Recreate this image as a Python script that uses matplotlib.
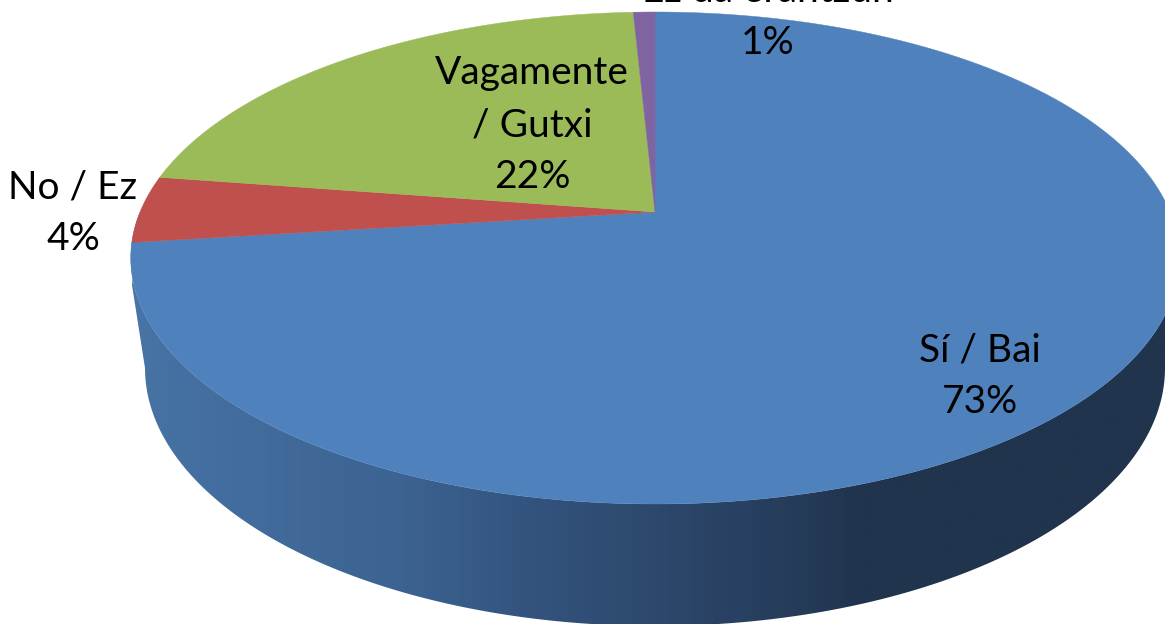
import numpy as np
import matplotlib
matplotlib.use("Agg")
import matplotlib.pyplot as plt
from matplotlib.patches import Polygon
from matplotlib.colors import LinearSegmentedColormap

categories = ["Sí / Bai", "No / Ez", "Vagamente\n/ Gutxi", "Ez da erantzun"]
shares = [73.0, 4.4, 21.8, 0.8]
share_labels = ["73%", "4%", "22%", "1%"]
colors = ["#4f81bd", "#c0504d", "#9bbb59", "#8064a2"]
label_pos = [(980, 376), (73, 213), (532, 125), (768, 17)]

W, H = 1165, 624
apex = (655, 212)
A, B, k = 515.0, 237.4, 0.187
side_stops = [(0.0, "#4a76a8"), (0.02, "#4672a4"), (0.264, "#3c6391"), (0.39, "#33537d"),
              (0.63, "#263d5c"), (0.707, "#20344d"), (1.0, "#20344d")]


def project(theta):
    x, y = np.sin(theta), np.cos(theta)
    d = 1 + k * y
    return apex[0] + A * x / d, apex[1] - B * y / d


fig = plt.figure(figsize=(W / 100, H / 100), dpi=100)
ax = fig.add_axes([0, 0, 1, 1])

# side wall: lower rim joined to the near half of the top rim
cx, cy, rx, ry = 655, 368, 510, 258
theta_low = np.linspace(np.pi, 0, 361)
low = np.column_stack([cx + rx * np.cos(theta_low), cy + ry * np.sin(theta_low)])
up_t = np.linspace(np.pi / 2, 3 * np.pi / 2, 361)
upx, upy = project(up_t)
outline = np.vstack([[(132, 285)], low, [(1178, 285)], np.column_stack([upx, upy])])
cmap = LinearSegmentedColormap.from_list("side", side_stops)
grad = np.linspace(0, 1, 1024).reshape(1, -1)
im = ax.imshow(grad, cmap=cmap, extent=(125, 1170, H + 20, 200), aspect="auto", zorder=1)
im.set_clip_path(Polygon(outline, closed=True, transform=ax.transData))
ax.set_xlim(0, W)
ax.set_ylim(H, 0)
ax.axis("off")

# top face
edges = np.cumsum([0] + shares) / sum(shares) * 2 * np.pi
for i, c in enumerate(colors):
    th = np.linspace(edges[i], edges[i + 1], 300)
    px, py = project(th)
    pts = np.vstack([[apex], np.column_stack([px, py])])
    ax.add_patch(Polygon(pts, closed=True, fc=c, ec=c, lw=0.3, zorder=2))

font = ["Lato", "DejaVu Sans"]
for cat, lab, pos in zip(categories, share_labels, label_pos):
    ax.text(pos[0], pos[1], f"{cat}\n{lab}", ha="center", va="center",
            fontsize=28, family=font, color="black", linespacing=1.54, zorder=3)

fig.savefig("out.png", dpi=100)
